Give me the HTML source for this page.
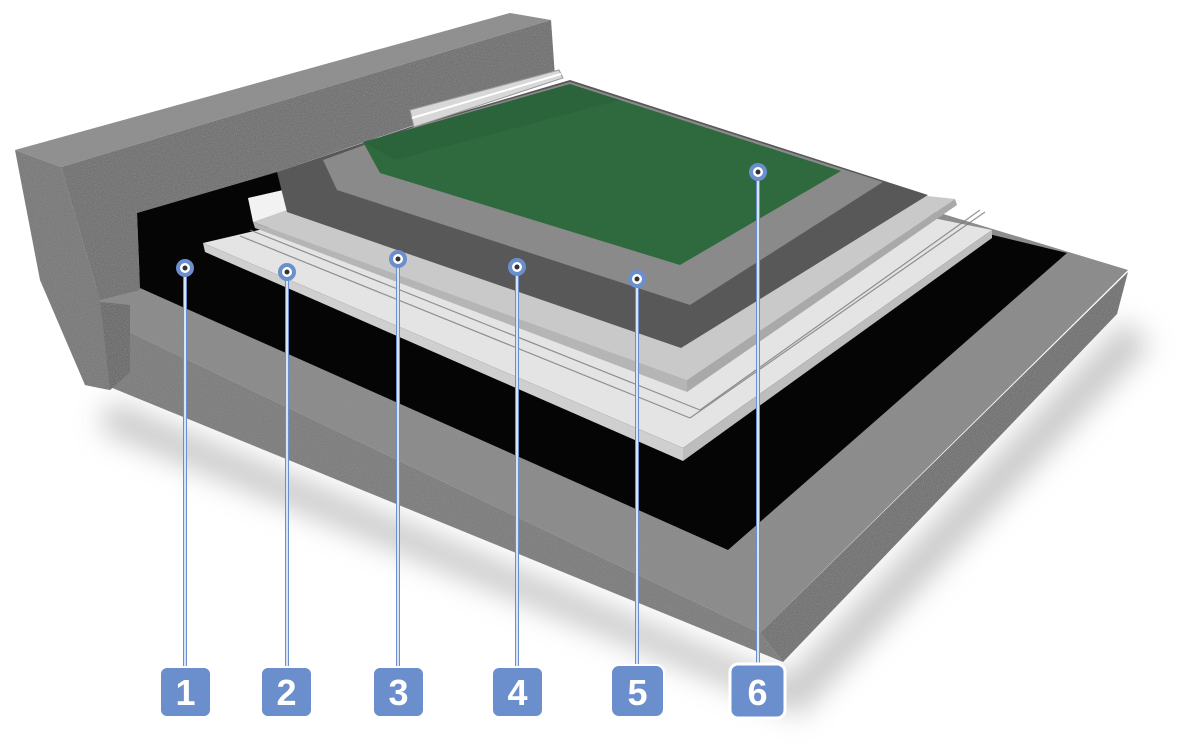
<!DOCTYPE html>
<html><head><meta charset="utf-8"><style>
html,body{margin:0;padding:0;background:#fff;}
svg{display:block;}
</style></head><body>
<svg width="1190" height="748" viewBox="0 0 1190 748" xmlns="http://www.w3.org/2000/svg">
<defs>
<filter id="blur" x="-20%" y="-20%" width="140%" height="140%"><feGaussianBlur stdDeviation="14"/></filter>
<filter id="noise" x="0" y="0" width="100%" height="100%">
<feTurbulence type="fractalNoise" baseFrequency="0.9" numOctaves="2" seed="3" result="n"/>
<feColorMatrix type="matrix" values="0 0 0 0 0.3  0 0 0 0 0.3  0 0 0 0 0.3  0 0 0 -1.2 0.75" in="n" result="m"/>
<feComposite in="m" in2="SourceGraphic" operator="in" result="c"/>
<feMerge><feMergeNode in="SourceGraphic"/><feMergeNode in="c"/></feMerge>
</filter>
</defs>
<!-- shadow -->
<polygon points="110,400 785,680 1125,320 1150,345 800,715 100,430" fill="#bbb" filter="url(#blur)" opacity="0.8"/>

<g filter="url(#noise)">
<!-- slab top -->
<polygon points="90,290 600,110 1128,270 760,633 100,318" fill="#8b8b8b"/>
<!-- slab front face -->
<polygon points="100,318 760,633 783,662 105,385" fill="#7e7e7e"/>
<!-- slab right face -->
<polygon points="760,633 1128,272 1117,314 783,662" fill="#737373"/>
<!-- wall downstand -->
<polygon points="80,300 130,305 130,372 110,390 85,385" fill="#6c6c6c"/>
<!-- wall end face -->
<polygon points="15,150 61,167 100,300 110,390 85,385 40,280" fill="#7a7a7a"/>
<!-- wall front face -->
<polygon points="61,167 551,20 555,77 277,172 137,213 140,290 100,300" fill="#727272"/>
<!-- wall top -->
<polygon points="15,150 510,13 551,20 61,167" fill="#8f8f8f"/>
</g>

<!-- black membrane -->
<polygon points="137,213 277,172 600,140 1067,253 728,550 140,288" fill="#050505"/>

<!-- EPS insulation (2) -->
<polygon points="203,243 250,232 600,150 992,230 683,448" fill="#e4e4e4"/>
<polygon points="203,243 683,448 683,461 205,252" fill="#cfcfcf"/>
<polygon points="683,448 992,230 992,238 683,461" fill="#bdbdbd"/>
<!-- upstand white block -->
<polygon points="248,198 283,190 290,215 253,222" fill="#f2f2f2"/>

<!-- screed (3) -->
<polygon points="253,222 287,210 600,160 955,199 687,380" fill="#c9c9c9"/>
<polygon points="687,380 955,199 957,205 687,392" fill="#a9a9a9"/>
<polygon points="253,222 687,380 687,392 255,228" fill="#b5b5b5"/>

<!-- mesh lines -->
<g stroke="#7a7a7a" stroke-width="1.2" opacity="0.8">
<line x1="240" y1="236" x2="690" y2="418"/>
<line x1="250" y1="230" x2="700" y2="410"/>
<line x1="690" y1="418" x2="985" y2="212"/>
<line x1="700" y1="410" x2="980" y2="210"/>
</g>

<!-- dark gray (4) -->
<polygon points="277,172 410,127 570,80 928,195 681,348 287,212" fill="#585858"/>
<!-- light gray (5) -->
<polygon points="323,160 414,127 570,82 883,182 690,305 337,190" fill="#8a8a8a"/>
<!-- green (6) -->
<polygon points="363,142 414,128 570,84 841,171 680,265 380,173" fill="#2f6a3f"/>
<polygon points="363,142 414,128 570,84 620,100 395,160" fill="#2a5f38" opacity="0.6"/>

<!-- metal flashing -->
<polygon points="410,110 559,70 563,78 414,127" fill="#d8d8d8" stroke="#999" stroke-width="1"/>
<line x1="412" y1="118" x2="561" y2="74" stroke="#fff" stroke-width="2"/>

<!-- leader lines -->
<g stroke="#6b8fcc" stroke-width="4">
<line x1="185" y1="268" x2="185" y2="670"/>
<line x1="287" y1="272" x2="287" y2="670"/>
<line x1="398" y1="259" x2="398" y2="670"/>
<line x1="517" y1="267" x2="517" y2="670"/>
<line x1="637" y1="279" x2="637" y2="670"/>
<line x1="758" y1="172" x2="758" y2="666"/>
</g>
<g stroke="#fff" stroke-width="1.5">
<line x1="185" y1="268" x2="185" y2="670"/>
<line x1="287" y1="272" x2="287" y2="670"/>
<line x1="398" y1="259" x2="398" y2="670"/>
<line x1="517" y1="267" x2="517" y2="670"/>
<line x1="637" y1="279" x2="637" y2="670"/>
<line x1="758" y1="172" x2="758" y2="666"/>
</g>
<g fill="#fff" stroke="#6b8fcc" stroke-width="4">
<circle cx="185" cy="268" r="7"/>
<circle cx="287" cy="272" r="7"/>
<circle cx="398" cy="259" r="7"/>
<circle cx="517" cy="267" r="7"/>
<circle cx="637" cy="279" r="7"/>
<circle cx="758" cy="172" r="7"/>
</g>
<g fill="#333">
<circle cx="185" cy="268" r="2.5"/><circle cx="287" cy="272" r="2.5"/><circle cx="398" cy="259" r="2.5"/>
<circle cx="517" cy="267" r="2.5"/><circle cx="637" cy="279" r="2.5"/><circle cx="758" cy="172" r="2.5"/>
</g>

<!-- label boxes -->
<g fill="#6b8fcc" stroke="#fff" stroke-width="2">
<rect x="160" y="667" width="51" height="50" rx="7"/>
<rect x="261" y="667" width="51" height="50" rx="7"/>
<rect x="373" y="667" width="51" height="50" rx="7"/>
<rect x="492" y="667" width="51" height="50" rx="7"/>
<rect x="611" y="665" width="53" height="52" rx="8"/>
<rect x="730" y="664" width="55" height="54" rx="8" stroke-width="3"/>
</g>
<g fill="#fff" font-family="Liberation Sans, sans-serif" font-weight="bold" font-size="36" text-anchor="middle">
<text x="185.5" y="705">1</text>
<text x="286.5" y="705">2</text>
<text x="398.5" y="705">3</text>
<text x="517.5" y="705">4</text>
<text x="637.5" y="705">5</text>
<text x="757.5" y="705">6</text>
</g>
</svg>
</body></html>
